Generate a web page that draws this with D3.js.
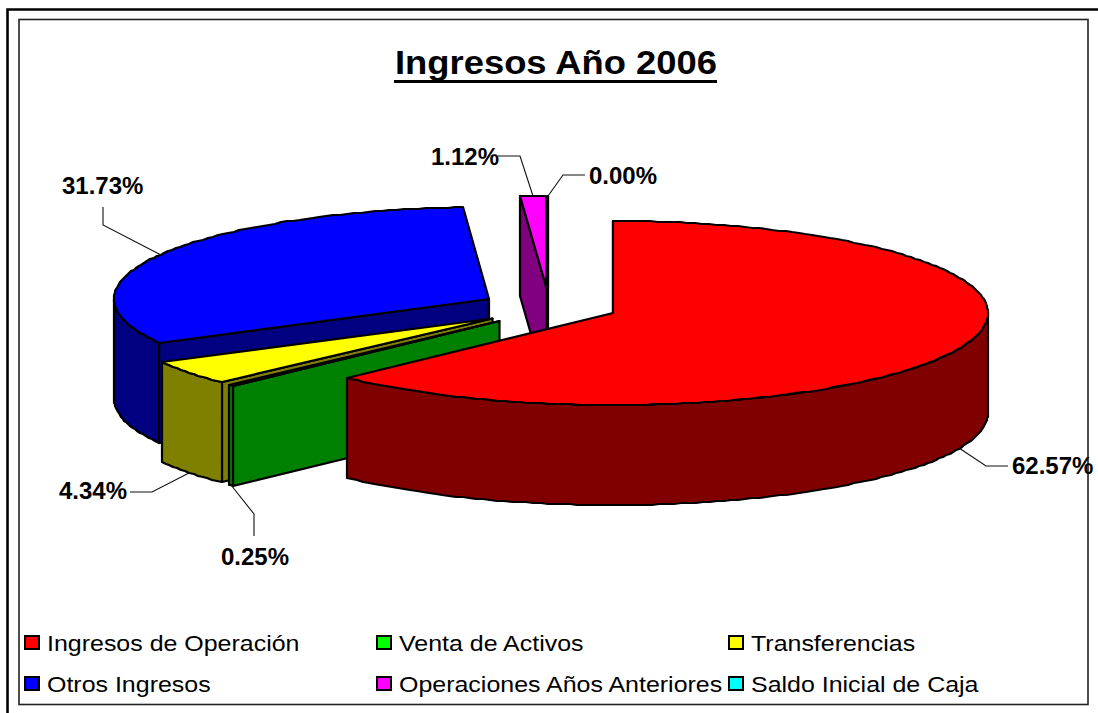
<!DOCTYPE html>
<html><head><meta charset="utf-8">
<script src="https://cdn.jsdelivr.net/npm/d3@7/dist/d3.min.js"></script>
<style>html,body{margin:0;padding:0;background:#fff;overflow:hidden}svg{display:block}text{font-family:"Liberation Sans",Arial,sans-serif;fill:#000}</style>
</head><body><svg id="c" width="1098" height="713"></svg>
<script>
const titleText = "Ingresos Año 2006";
const categories = ["Ingresos de Operación","Venta de Activos","Transferencias","Otros Ingresos","Operaciones Años Anteriores","Saldo Inicial de Caja"];
const values = [62.57,0.25,4.34,31.73,1.12,0.00];
const topColors = ["#ff0000","#00ff00","#ffff00","#0000ff","#ff00ff","#00ffff"];
const sideColors = ["#800000","#008000","#808000","#000080","#800080","#008080"];

// layout
const W=1098,H=713, rx=375, ry=92, depth=100, cx=535, cy=307;
const explode=[[78,6],[-35.5,14],[-42.5,11.5],[-46,-8],[11.5,-19],[13,-19]];
const leaders=[ // elbow and label placement relative to the slice anchor
 {el:[27,18],lab:[53,26]},{el:[23,29],end:[23,51],lab:[-10,80]},{el:[-37,19],end:[-59,19],lab:[-130,26]},
 {el:[-58,-30],end:[-58,-48],lab:[-99,-61]},{el:[-13,-40],end:[-35,-40],lab:[-102,-31]},{el:[15,-21],end:[37,-21],lab:[41,-12]}];

const svg=d3.select("#c");
const x=d3.scaleLinear().domain([-1,1]).range([cx-rx,cx+rx]);
const y=d3.scaleLinear().domain([-1,1]).range([cy-ry,cy+ry]);
const ang=d3.pie().sort(null).value(d=>d).startAngle(0).endAngle(2*Math.PI)(values);
const line=d3.line();

// frames
const fr=svg.append("g").attr("fill","none");
fr.append("path").attr("d","M7.5,713V9.5H1098").attr("stroke","#000").attr("stroke-width",2.6);
fr.append("rect").attr("x",19).attr("y",19.5).attr("width",1069).attr("height",685).attr("stroke","#222").attr("stroke-width",1.6);

// title
svg.append("text").attr("x",556).attr("y",73.5).attr("text-anchor","middle").attr("font-size",33).attr("font-weight","bold")
  .attr("textLength",322).attr("lengthAdjust","spacingAndGlyphs").text(titleText);
svg.append("rect").attr("x",394).attr("y",80).attr("width",323).attr("height",3).attr("fill","#000");

const pt=(i,a,h=0)=>[Math.round(x(Math.sin(a))+explode[i][0]), Math.round(y(-Math.cos(a))+explode[i][1]+h)];
const arcPts=(i,a0,a1,h)=>{const n=Math.max(2,Math.ceil((a1-a0)/0.02));return d3.range(n+1).map(k=>pt(i,a0+(a1-a0)*k/n,h));};
const apex=(i,h=0)=>[x(0)+explode[i][0],y(0)+explode[i][1]+h];

const g=svg.append("g").attr("stroke","#000").attr("stroke-width",2.2).attr("stroke-linejoin","round");
[3,4,5,2,1,0].forEach(i=>{
  const a0=ang[i].startAngle,a1=ang[i].endAngle;
  const face=a=>line([apex(i),pt(i,a),pt(i,a,depth),apex(i,depth)])+"Z";
  if(Math.sin(a0)<=1e-9) g.append("path").attr("d",face(a0)).attr("fill",sideColors[i]);
  if(Math.sin(a1)>1e-9) g.append("path").attr("d",face(a1)).attr("fill",sideColors[i]);
  const w0=Math.max(a0,Math.PI/2),w1=Math.min(a1,3*Math.PI/2);
  if(w1>w0){
    g.append("path").attr("d",line(arcPts(i,w0,w1,0).concat(arcPts(i,w0,w1,depth).reverse()))+"Z").attr("fill",sideColors[i]);
  }
  g.append("path").attr("d",line([apex(i)].concat(arcPts(i,a0,a1,0)))+"Z").attr("fill",topColors[i]);
});

// leaders and labels
const fmt=d3.format(".2%");
const lg=svg.append("g");
values.forEach((v,i)=>{
  const mid=(ang[i].startAngle+ang[i].endAngle)/2;
  const front=Math.cos(mid)<0;
  const s=pt(i,mid,front?depth:0), L=leaders[i];
  const pts=[s,[s[0]+L.el[0],s[1]+L.el[1]]];
  pts.push(L.end?[s[0]+L.end[0],s[1]+L.end[1]]:[s[0]+L.el[0]+22,s[1]+L.el[1]]);
  lg.append("path").attr("d",line(pts)).attr("fill","none").attr("stroke","#111").attr("stroke-width",1.1);
  lg.append("text").attr("x",s[0]+L.lab[0]).attr("y",s[1]+L.lab[1]).attr("font-size",24).attr("font-weight","bold").text(fmt(v/100));
});

// legend
const colX=d3.scalePoint().domain([0,1,2]).range([25,729]);
const rowY=d3.scalePoint().domain([0,1]).range([636,677]);
const leg=svg.append("g");
categories.forEach((c,i)=>{
  const X=colX(i%3),Y=rowY(Math.floor(i/3));
  leg.append("rect").attr("x",X).attr("y",Y).attr("width",14).attr("height",13).attr("fill",topColors[i]).attr("stroke","#000").attr("stroke-width",2);
  leg.append("text").attr("transform",`translate(${X+22},${Y+14.5}) scale(1.11,1)`).attr("font-size",22.5).text(c);
});
</script></body></html>
